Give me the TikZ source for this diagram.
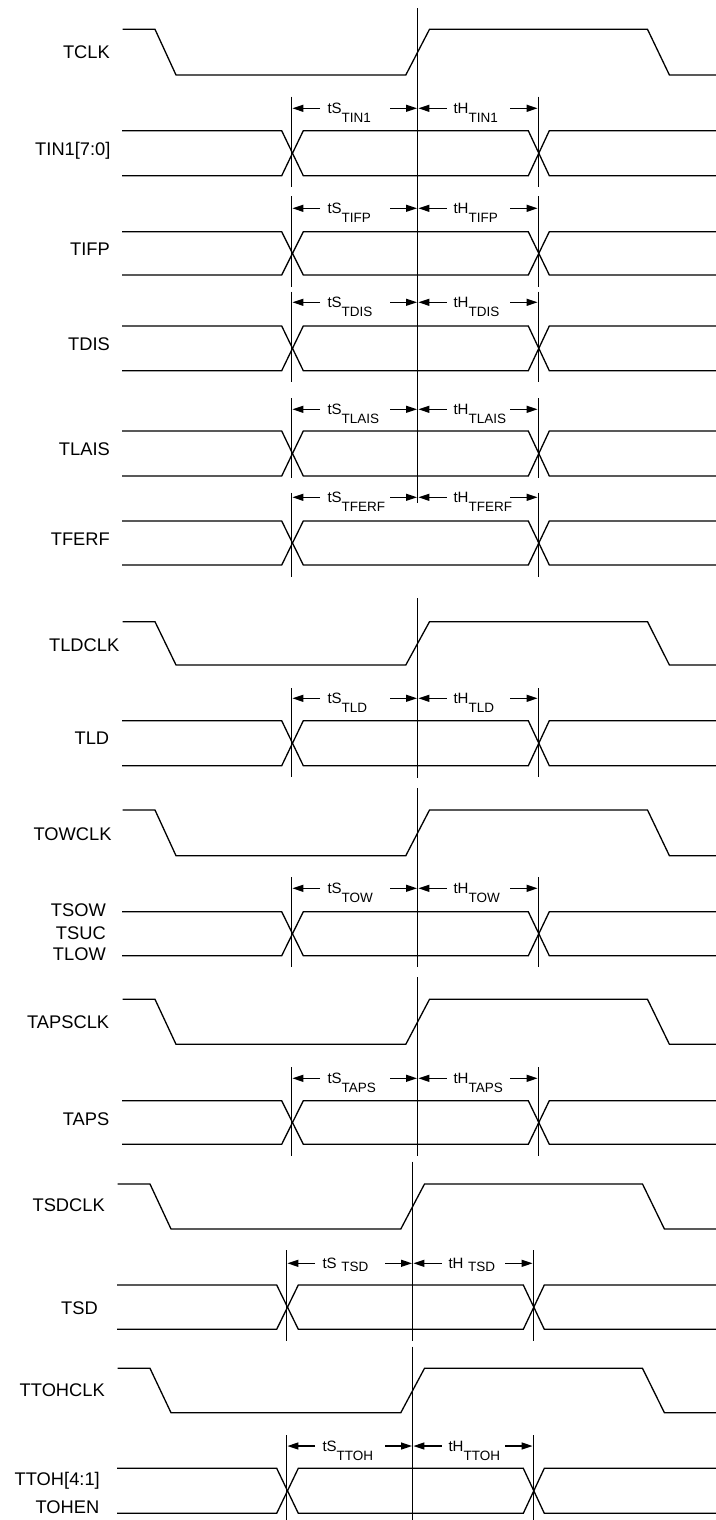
\documentclass[tikz,border=0pt]{standalone}
\usepackage{fontspec}
\setmainfont{Liberation Sans}
\usetikzlibrary{arrows.meta}
\tikzset{
  sig/.style={line width=1.3pt, line join=miter},
  arr/.style={line width=1.3pt, -{Triangle[length=11pt,width=7pt]}},
  lbl/.style={inner sep=0pt, anchor=base east, font=\fontsize{18.3}{20}\selectfont},
  tlbl/.style={inner sep=0pt, anchor=base west, font=\fontsize{15}{16}\selectfont},
}
\newcommand\subtx[1]{\raisebox{-9.4pt}{\fontsize{13.5}{14}\selectfont #1}}
\newcommand\subtxb[1]{\hspace{4.6pt}\raisebox{-2.7pt}{\fontsize{13.5}{14}\selectfont #1}}
% clock row: #1 high y, #2 low y
\newcommand\clkrow[2]{%
  \draw[sig] (122.7,#1) -- (155,#1) -- (176,#2) -- (405.8,#2) -- (429.5,#1)
    -- (647.5,#1) -- (669.4,#2) -- (725,#2);}
% data row: #1 high, #2 low, #3 arrow y, #4 vtop, #5 vbottom, #6 name, #7 subscript
\newcommand\datrow[7]{%
  \draw[sig] (122,#1) -- (281.7,#1) -- (303.3,#2) -- (528.3,#2) -- (549.3,#1) -- (725,#1);
  \draw[sig] (122,#2) -- (281.7,#2) -- (303.3,#1) -- (528.3,#1) -- (549.3,#2) -- (725,#2);
  \draw[sig] (291.7,#4) -- (291.7,#5);
  \draw[sig] (538.3,#4) -- (538.3,#5);
  \draw[arr] (320,#3) -- (292.4,#3);
  \draw[arr] (390,#3) -- (417,#3);
  \draw[arr] (446.7,#3) -- (418.4,#3);
  \draw[arr] (510,#3) -- (537.6,#3);
  \node[tlbl] (tS#6) at (327.3,{#3+5}) {tS#7};
  \node[tlbl] (tH#6) at (453.3,{#3+5}) {tH#7};
}
\begin{document}
\begin{tikzpicture}[x=1pt,y=-1pt]
\useasboundingbox (0,0) rectangle (715,1520);
% section 1
\draw[sig] (417.7,8.3) -- (417.7,503.3);
\clkrow{29.3}{75}
\datrow{130.7}{175.7}{108.3}{96.7}{186.7}{TIN1}{\subtx{TIN1}}
\datrow{231.7}{275}{208.3}{196}{286.7}{TIFP}{\subtx{TIFP}}
\datrow{326}{370.7}{302.3}{291.7}{381.7}{TDIS}{\subtx{TDIS}}
\datrow{431}{476}{409.3}{398.3}{478.3}{TLAIS}{\subtx{TLAIS}}
\datrow{521}{565}{497.3}{492.7}{576.7}{TFERF}{\subtx{TFERF}}
% section 2
\draw[sig] (417.7,598.3) -- (417.7,778);
\clkrow{621.7}{665}
\datrow{720.7}{765.7}{698.3}{688.3}{776.7}{TLD}{\subtx{TLD}}
% section 3
\draw[sig] (417.7,788.3) -- (417.7,967.3);
\clkrow{810}{855.7}
\datrow{911.7}{955.7}{888.3}{877.3}{967.3}{TOW}{\subtx{TOW}}
% section 4
\draw[sig] (417.7,977.3) -- (417.7,1156);
\clkrow{999.3}{1044.3}
\datrow{1100.7}{1144.3}{1078.3}{1067.3}{1156}{TAPS}{\subtx{TAPS}}
% sections 5 and 6
\begin{scope}[xshift=-5pt]
\draw[sig] (417.7,1161.7) -- (417.7,1341);
\clkrow{1184}{1229}
\datrow{1285}{1329.3}{1263.3}{1250}{1340.7}{TSD}{\subtxb{TSD}}
\draw[sig] (417.7,1346.7) -- (417.7,1525);
\clkrow{1368.3}{1412.7}
\datrow{1468.3}{1513.3}{1446}{1435}{1525}{TTOH}{\subtx{TTOH}}
\end{scope}
% signal names
\node[lbl] (nTCLK) at (110,58.5) {TCLK};
\node[lbl] (nTIN1) at (110.7,155) {TIN1[7:0]};
\node[lbl] (nTIFP) at (110,255) {TIFP};
\node[lbl] (nTDIS) at (110,350) {TDIS};
\node[lbl] (nTLAIS) at (110,455.5) {TLAIS};
\node[lbl] (nTFERF) at (110,545) {TFERF};
\node[lbl] (nTLDCLK) at (119.5,651.7) {TLDCLK};
\node[lbl] (nTLD) at (109.4,744) {TLD};
\node[lbl] (nTOWCLK) at (111.7,840) {TOWCLK};
\node[lbl] (nTSOW) at (106,916.7) {TSOW};
\node[lbl] (nTSUC) at (106,939.3) {TSUC};
\node[lbl] (nTLOW) at (106,960) {TLOW};
\node[lbl] (nTAPSCLK) at (109.4,1028.3) {TAPSCLK};
\node[lbl] (nTAPS) at (109.4,1125) {TAPS};
\node[lbl] (nTSDCLK) at (105,1211.7) {TSDCLK};
\node[lbl] (nTSD) at (98,1314) {TSD};
\node[lbl] (nTTOHCLK) at (105,1396) {TTOHCLK};
\node[lbl] (nTTOH) at (100,1485) {TTOH[4:1]};
\node[lbl] (nTOHEN) at (99.5,1513.3) {TOHEN};
\end{tikzpicture}
\end{document}
